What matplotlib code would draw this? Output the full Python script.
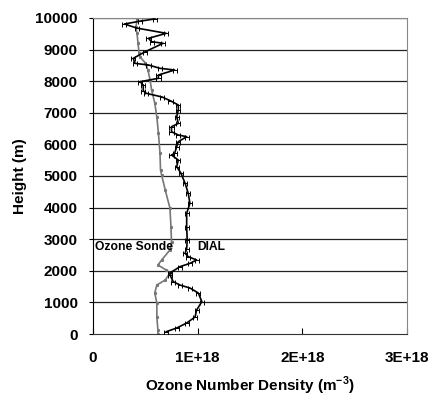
import matplotlib
matplotlib.use("Agg")
import matplotlib.pyplot as plt
import numpy as np

plt.rcParams['font.family'] = ['Liberation Sans', 'DejaVu Sans']
plt.rcParams['mathtext.fontset'] = 'custom'
plt.rcParams['mathtext.bf'] = 'Liberation Sans:bold'

# DIAL profile (height m, density 1e18 m^-3)
dial_h = [9970, 9900, 9810, 9680, 9515, 9357, 9250, 9200, 8935, 8724, 8565, 8513,
          8408, 8354, 8196, 8091, 7985, 7880, 7700, 7616, 7500, 7380, 7247, 7089,
          6877, 6664, 6560, 6400, 6297, 6244, 6086, 5930, 5718, 5665, 5506, 5295,
          5090, 4770, 4450, 4135, 3819, 3396, 2975, 2700, 2553, 2447, 2342, 2236,
          2130, 1930, 1867, 1656, 1550, 1456, 1297, 1023, 759, 538, 348, 190, 73]
dial_x = [0.59, 0.45, 0.30, 0.42, 0.70, 0.53, 0.56, 0.67, 0.50, 0.385, 0.40, 0.53,
          0.64, 0.78, 0.625, 0.625, 0.45, 0.48, 0.48, 0.51, 0.66, 0.74, 0.815, 0.815,
          0.80, 0.815, 0.75, 0.75, 0.815, 0.895, 0.815, 0.80, 0.78, 0.75, 0.815, 0.80,
          0.84, 0.88, 0.91, 0.926, 0.895, 0.895, 0.90, 0.895, 0.88, 0.91, 0.99, 0.926,
          0.83, 0.735, 0.735, 0.767, 0.83, 0.926, 1.006, 1.04, 0.99, 0.975, 0.895, 0.80, 0.70]
dial_err = [0.02] * len(dial_h)

# Ozone sonde profile
sonde_h = [9950, 9700, 9525, 9209, 8900, 8766, 8576, 8354, 8038, 7722, 7310, 6867,
           6361, 5728, 5190, 5030, 4557, 3987, 3386, 2911, 2658, 2342, 2183, 2025,
           1930, 1709, 1550, 1297, 981, 538, 127, 0]
sonde_x = [0.42, 0.41, 0.42, 0.43, 0.44, 0.45, 0.50, 0.525, 0.545, 0.56, 0.59, 0.61,
           0.625, 0.64, 0.645, 0.656, 0.69, 0.735, 0.745, 0.75, 0.735, 0.656, 0.62, 0.70,
           0.735, 0.69, 0.61, 0.59, 0.61, 0.61, 0.62, 0.62]

xticks = [0, 1e18, 2e18, 3e18]
xticklabels = ['0', '1E+18', '2E+18', '3E+18']
yticks = list(range(0, 10001, 1000))

fig = plt.figure(figsize=(4.32, 3.96), dpi=100)
ax = fig.add_axes([93/432, 1-334/396, (407-93)/432, (334-18)/396])

for y in yticks[1:]:
    ax.axhline(y, color='#222222', lw=0.9, zorder=1)

ax.plot(np.array(sonde_x)*1e18, sonde_h, color='#777777', lw=1.2, marker='s',
        ms=1.2, zorder=2)
ax.errorbar(np.array(dial_x)*1e18, dial_h, xerr=np.array(dial_err)*1e18,
            color='black', lw=1.2, elinewidth=0.7, capsize=1.8, capthick=0.7, zorder=3)

ax.set_xlim(0, 3e18)
ax.set_ylim(0, 10000)
ax.set_xticks(xticks)
ax.set_xticklabels(xticklabels, fontweight='bold', fontsize=11)
ax.set_yticks(yticks)
ax.set_yticklabels([str(v) for v in yticks], fontweight='bold', fontsize=11)
ax.tick_params(axis='x', direction='in', length=4, pad=12)
ax.tick_params(axis='y', direction='out', length=3, pad=8)
ax.spines['top'].set_color('#888888')
ax.spines['right'].set_color('#888888')
ax.spines['left'].set_color('black')
ax.spines['bottom'].set_color('#333333')

ax.set_xlabel('Ozone Number Density (m$^{\\mathbf{-3}}$)', fontweight='bold',
              fontsize=11, labelpad=7)
ax.set_ylabel('Height (m)', fontweight='bold', fontsize=11, labelpad=6)

ax.text(0.02e18, 2750, 'Ozone Sonde', fontweight='bold', fontsize=8.7, va='center',
        ha='left', zorder=4)
ax.text(1.0e18, 2750, 'DIAL', fontweight='bold', fontsize=8.7, va='center',
        ha='left', zorder=4)

fig.savefig('out.png', dpi=100)
